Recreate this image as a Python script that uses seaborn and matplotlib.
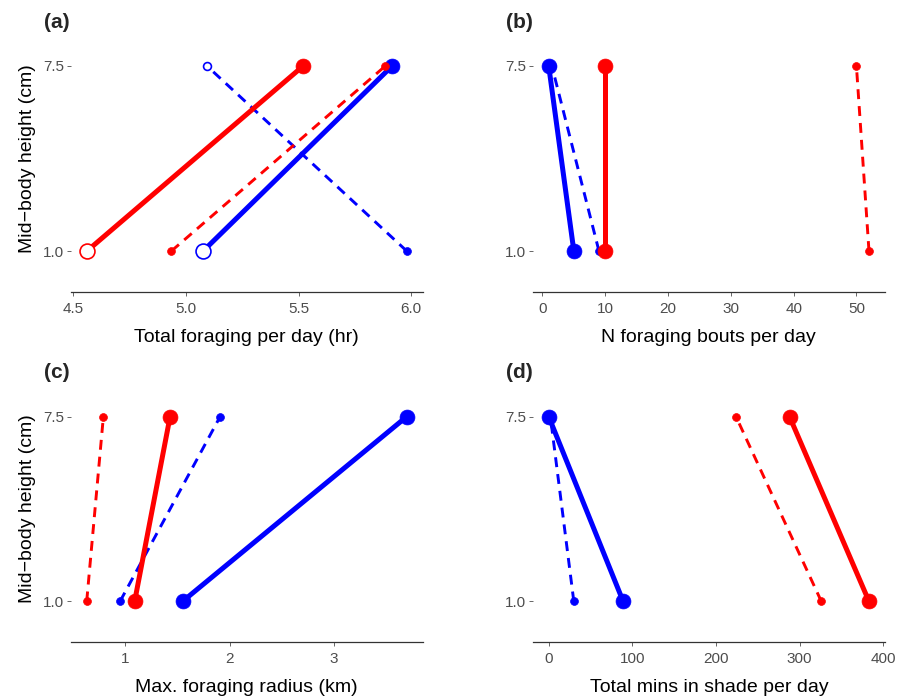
import pandas as pd
import matplotlib.pyplot as plt
import seaborn as sns

heights = [1.0, 7.5]

# values at height 1.0 and 7.5 for each series
a_red_solid = [4.56, 5.52]
a_red_dash = [4.935, 5.885]
a_blue_solid = [5.076, 5.915]
a_blue_dash = [5.98, 5.093]

b_red_solid = [10, 10]
b_red_dash = [52, 50]
b_blue_solid = [5, 1]
b_blue_dash = [9, 1.5]

c_red_solid = [1.09, 1.43]
c_red_dash = [0.63, 0.79]
c_blue_solid = [1.55, 3.70]
c_blue_dash = [0.95, 1.91]

d_red_solid = [383, 288]
d_red_dash = [326, 224]
d_blue_solid = [89, 0]
d_blue_dash = [30, 2]

# points drawn hollow: (panel, series, height)
hollow = [("a", "red_solid", 1.0), ("a", "blue_solid", 1.0), ("a", "blue_dash", 7.5)]

panel_labels = ["(a)", "(b)", "(c)", "(d)"]
x_titles = ["Total foraging per day (hr)", "N foraging bouts per day",
            "Max. foraging radius (km)", "Total mins in shade per day"]
y_title = "Mid\u2212body height (cm)"

series = {
    "a": {"blue_dash": a_blue_dash, "blue_solid": a_blue_solid, "red_dash": a_red_dash, "red_solid": a_red_solid},
    "b": {"blue_dash": b_blue_dash, "blue_solid": b_blue_solid, "red_dash": b_red_dash, "red_solid": b_red_solid},
    "c": {"blue_dash": c_blue_dash, "blue_solid": c_blue_solid, "red_dash": c_red_dash, "red_solid": c_red_solid},
    "d": {"blue_dash": d_blue_dash, "blue_solid": d_blue_solid, "red_dash": d_red_dash, "red_solid": d_red_solid},
}

rows = []
for p, d in series.items():
    for name, vals in d.items():
        for h, v in zip(heights, vals):
            rows.append({"panel": p, "series": name, "height": h, "value": v,
                         "hollow": (p, name, h) in hollow})
df = pd.DataFrame(rows)

sns.set_theme(style="white")
plt.rcParams["font.family"] = ["Liberation Sans", "DejaVu Sans"]

fig = plt.figure(figsize=(9.09, 7), dpi=100)
W, H = 909, 700
boxes = {"a": (71, 25, 422.7, 292), "b": (532.7, 25, 885, 292),
         "c": (70.7, 375.7, 422.7, 642.3), "d": (532.7, 375.7, 885, 642.3)}
xticks = {"a": [4.5, 5.0, 5.5, 6.0], "b": [0, 10, 20, 30, 40, 50],
          "c": [1, 2, 3], "d": [0, 100, 200, 300, 400]}
xfmt = {"a": "{:.1f}", "b": "{:g}", "c": "{:g}", "d": "{:g}"}

for i, p in enumerate(["a", "b", "c", "d"]):
    x0, y0, x1, y1 = boxes[p]
    ax = fig.add_axes([x0 / W, 1 - y1 / H, (x1 - x0) / W, (y1 - y0) / H])
    sub = df[df.panel == p]
    for name in ["blue_dash", "blue_solid", "red_dash", "red_solid"]:
        s = sub[sub.series == name]
        col = "#0000FF" if name.startswith("blue") else "#FF0000"
        solid = name.endswith("solid")
        lw = 3.6 if solid else 2.1
        ls = "-" if solid else (0, (3.4, 2.4))
        sns.lineplot(data=s, x="value", y="height", ax=ax, color=col, lw=lw,
                     linestyle=ls, sort=False, estimator=None, zorder=2)
        ms = 115 if solid else 32
        filled = s[~s.hollow]
        empty = s[s.hollow]
        sns.scatterplot(data=filled, x="value", y="height", ax=ax, color=col,
                        s=ms, edgecolor=col, linewidth=0.5, zorder=3, legend=False)
        if len(empty):
            sns.scatterplot(data=empty, x="value", y="height", ax=ax, color="white",
                            s=ms, edgecolor=col, linewidth=1.2, zorder=3, legend=False)

    vmin, vmax = sub.value.min(), sub.value.max()
    pad = (vmax - vmin) * 0.05
    ax.set_xlim(vmin - pad, vmax + pad)
    ax.set_ylim(-0.44, 8.94)
    ax.set_xticks(xticks[p])
    ax.set_xticklabels([xfmt[p].format(t) for t in xticks[p]])
    ax.set_yticks(heights)
    ax.set_yticklabels(["1.0", "7.5"])
    for sp in ["top", "right", "left"]:
        ax.spines[sp].set_visible(False)
    ax.spines["bottom"].set_color("#333333")
    ax.spines["bottom"].set_linewidth(0.9)
    ax.tick_params(axis="both", colors="#4D4D4D", labelsize=11, length=3, width=0.6,
                   bottom=True, left=True, pad=2)
    ax.tick_params(axis="x", pad=4)
    ax.set_xlabel(x_titles[i], fontsize=14, color="black", labelpad=9.5)
    if p in ("a", "c"):
        ax.set_ylabel(y_title, fontsize=14, color="black", labelpad=5)
    else:
        ax.set_ylabel("")
    ax.grid(False)
    lx = 44 if p in ("a", "c") else 506
    ly = 22 if p in ("a", "b") else 373
    fig.text(lx / W, 1 - ly / H, panel_labels[i], fontsize=15, fontweight="bold",
             va="center", ha="left")

fig.savefig("out.png", dpi=100)
